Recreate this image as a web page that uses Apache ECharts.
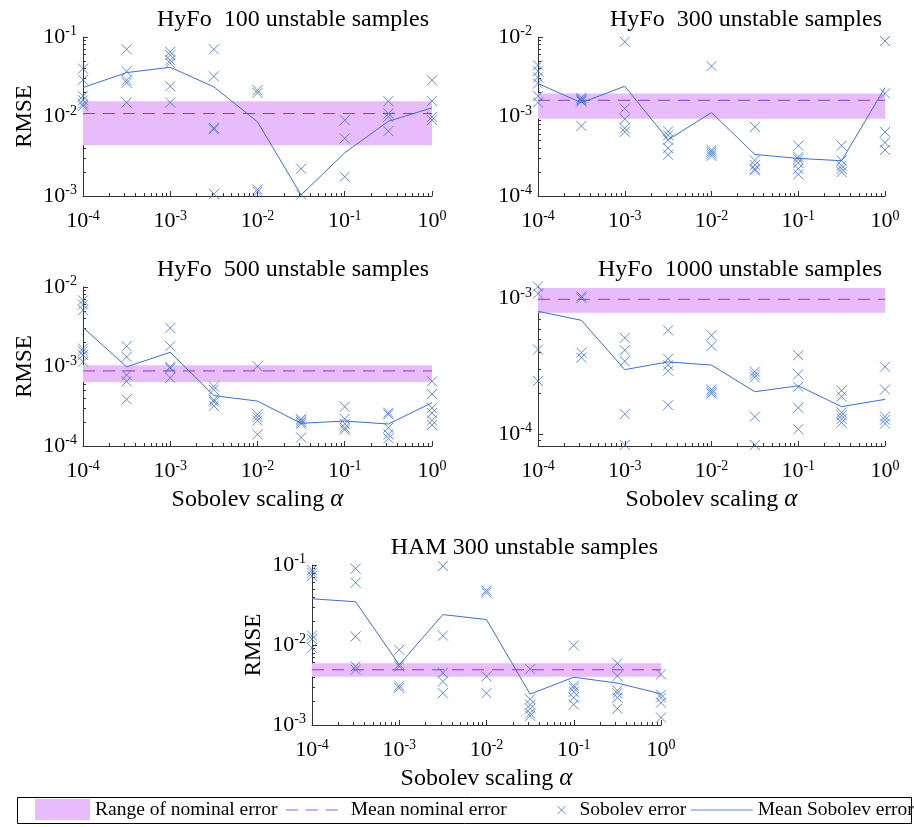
<!DOCTYPE html>
<html>
<head>
<meta charset="utf-8">
<script src="https://cdn.jsdelivr.net/npm/echarts@6/dist/echarts.min.js"></script>
<style>html,body{margin:0;padding:0;background:#fff}#c{width:914px;height:827px}</style>
</head>
<body>
<div id="c"></div>
<script>
// ---------- data ----------
const alphas = [1e-4, 3.162e-4, 1e-3, 3.162e-3, 1e-2, 3.162e-2, 1e-1, 3.162e-1, 1];

const hyfo100Sobolev = [
  [0.040, 0.029, 0.018, 0.016, 0.0145, 0.0135],
  [0.070, 0.037, 0.0286, 0.0265, 0.015],
  [0.065, 0.059, 0.051, 0.047, 0.024, 0.015],
  [0.070, 0.032, 0.0072, 0.0069, 0.00106],
  [0.0214, 0.0198, 0.00121, 0.00113],
  [0.0022, 0.00104],
  [0.009, 0.0053, 0.00175],
  [0.0156, 0.0109, 0.0099, 0.00655],
  [0.0286, 0.0157, 0.0099, 0.009]
];
const hyfo100Mean = [0.0231, 0.0357, 0.0416, 0.0236, 0.00857, 0.00103, 0.0035, 0.0087, 0.01285];
const hyfo100NomRange = [0.00436, 0.01556];
const hyfo100NomMean = 0.0109;

const hyfo300Sobolev = [
  [0.0044, 0.0037, 0.0031, 0.0026, 0.0018, 0.0015],
  [0.00172, 0.00165, 0.0016, 0.00155, 0.00076],
  [0.0087, 0.00126, 0.00093, 0.00071, 0.00064],
  [0.00065, 0.00058, 0.00051, 0.0004, 0.00033],
  [0.0043, 0.00038, 0.00036, 0.00034, 0.00032],
  [0.00074, 0.00028, 0.000245, 0.00022, 0.00021],
  [0.00043, 0.00031, 0.00029, 0.00026, 0.00022, 0.000187],
  [0.00043, 0.00028, 0.00024, 0.00022, 0.0002],
  [0.0089, 0.00195, 0.00064, 0.00047, 0.00038]
];
const hyfo300Mean = [0.0026, 0.00149, 0.0024, 0.00051, 0.00112, 0.000333, 0.000297, 0.000278, 0.00231];
const hyfo300NomRange = [0.00094, 0.00195];
const hyfo300NomMean = 0.0016;

const hyfo500Sobolev = [
  [0.0068, 0.006, 0.0051, 0.00168, 0.00155, 0.0014, 0.00115],
  [0.0018, 0.00132, 0.00078, 0.00065, 0.000386],
  [0.00305, 0.0018, 0.00099, 0.00095, 0.00072],
  [0.00056, 0.00051, 0.00038, 0.00036, 0.00032],
  [0.00101, 0.00025, 0.00023, 0.00021, 0.00014],
  [0.00022, 0.00021, 0.0002, 0.00019, 0.000128],
  [0.000312, 0.00022, 0.00019, 0.00017, 0.00016],
  [0.000262, 0.00025, 0.00017, 0.00014, 0.000125],
  [0.00065, 0.00045, 0.0003, 0.00026, 0.00021, 0.000184]
];
const hyfo500Mean = [0.0031, 0.00099, 0.00151, 0.00043, 0.000367, 0.000193, 0.000206, 0.000189, 0.00035];
const hyfo500NomRange = [0.00064, 0.00104];
const hyfo500NomMean = 0.00088;

const hyfo1000Sobolev = [
  [0.00123, 0.00109, 0.000422, 0.000247],
  [0.00104, 0.00101, 0.0004, 0.000368],
  [0.000514, 0.000417, 0.000346, 0.000141, 0.0000835],
  [0.000585, 0.00036, 0.000323, 0.000294, 0.000164],
  [0.000537, 0.000449, 0.000214, 0.000206, 0.0002],
  [0.00029, 0.000276, 0.000263, 0.000135, 0.0000835],
  [0.000383, 0.000277, 0.000224, 0.000157, 0.000109],
  [0.00021, 0.00019, 0.000145, 0.000138, 0.00013, 0.000122],
  [0.000315, 0.000214, 0.000135, 0.000128, 0.00012]
];
const hyfo1000Mean = [0.000807, 0.000693, 0.0003, 0.000342, 0.000324, 0.000206, 0.000228, 0.00016, 0.000181];
const hyfo1000NomRange = [0.000789, 0.0012];
const hyfo1000NomMean = 0.00099;

const ham300Sobolev = [
  [0.0865, 0.08, 0.073, 0.0131, 0.0119, 0.0092],
  [0.09, 0.06, 0.0128, 0.0054, 0.0049],
  [0.0087, 0.0057, 0.0054, 0.0031, 0.0029],
  [0.097, 0.0131, 0.0045, 0.0035, 0.0025],
  [0.048, 0.045, 0.00405, 0.0025],
  [0.005, 0.0021, 0.0018, 0.0016, 0.0014, 0.0013],
  [0.0099, 0.0031, 0.0029, 0.0026, 0.0022, 0.0018],
  [0.0059, 0.0041, 0.0027, 0.0025, 0.0022, 0.0016],
  [0.0043, 0.0024, 0.0022, 0.0019, 0.00124]
];
const ham300Mean = [0.0378, 0.0347, 0.00566, 0.024, 0.0208, 0.00243, 0.00396, 0.00334, 0.00245];
const ham300NomRange = [0.004, 0.0059];
const ham300NomMean = 0.0049;

const titles = ['HyFo  100 unstable samples', 'HyFo  300 unstable samples', 'HyFo  500 unstable samples', 'HyFo  1000 unstable samples', 'HAM 300 unstable samples'];
const xTicks = [1e-4, 1e-3, 1e-2, 1e-1, 1];
const yTicks = [
  [1e-3, 1e-2, 1e-1],
  [1e-4, 1e-3, 1e-2],
  [1e-4, 1e-3, 1e-2],
  [1e-4, 1e-3],
  [1e-3, 1e-2, 1e-1]
];
const yRanges = [[1e-3, 1e-1], [1e-4, 1e-2], [1e-4, 1e-2], [8.2e-5, 1.22e-3], [1e-3, 1e-1]];

const panelsData = [
  {sob: hyfo100Sobolev, mean: hyfo100Mean, range: hyfo100NomRange, nom: hyfo100NomMean},
  {sob: hyfo300Sobolev, mean: hyfo300Mean, range: hyfo300NomRange, nom: hyfo300NomMean},
  {sob: hyfo500Sobolev, mean: hyfo500Mean, range: hyfo500NomRange, nom: hyfo500NomMean},
  {sob: hyfo1000Sobolev, mean: hyfo1000Mean, range: hyfo1000NomRange, nom: hyfo1000NomMean},
  {sob: ham300Sobolev, mean: ham300Mean, range: ham300NomRange, nom: ham300NomMean}
];

// ---------- layout / style ----------
const layout = [
  {left: 83, top: 37, width: 349, height: 159, yName: true, xName: false, titleTop: 8},
  {left: 538, top: 37, width: 347, height: 159, yName: false, xName: false, titleTop: 8},
  {left: 83, top: 287, width: 349, height: 159, yName: true, xName: true, titleTop: 258},
  {left: 538, top: 287, width: 347, height: 159, yName: false, xName: true, titleTop: 258},
  {left: 312, top: 565, width: 349, height: 160, yName: true, xName: true, titleTop: 536}
];
const FONT = 'Liberation Serif';
const BLUE = '#3b6fd6';
const PINK = '#e8bcfa';
const PURPLE = '#9933cc';
const AXIS = '#333';
const XSYM = 'path://M0,0L10,10M10,0L0,10';

function minorTicks(lo, hi) {
  const out = [];
  for (let d = Math.floor(Math.log10(lo)) ; d <= Math.ceil(Math.log10(hi)); d++) {
    for (let k = 2; k <= 9; k++) {
      const v = k * Math.pow(10, d);
      if (v >= lo * 0.999 && v <= hi * 1.001) out.push(v);
    }
  }
  return out;
}
const rich = {
  b: {fontSize: 22, fontFamily: FONT, color: '#000'},
  s: {fontSize: 14, fontFamily: FONT, color: '#000', padding: [0, 0, 11, 0]}
};
function fmt(v) {
  const e = Math.round(Math.log10(v));
  return '{b|10}{s|' + e + '}';
}

const grid = [], xAxis = [], yAxis = [], series = [], title = [];
layout.forEach((L, i) => {
  grid.push({left: L.left, top: L.top, width: L.width, height: L.height, containLabel: false});
  title.push({
    text: titles[i], right: 914 - (L.left + L.width) + 3, top: L.titleTop, padding: 0,
    textStyle: {fontFamily: FONT, fontSize: 24, fontWeight: 'normal', color: '#000'}
  });
  const [ymin, ymax] = yRanges[i];
  xAxis.push({
    type: 'log', logBase: 10, gridIndex: i, min: 1e-4, max: 1, position: 'bottom',
    name: L.xName ? 'Sobolev scaling {i|α}' : '', nameLocation: 'middle', nameGap: 41,
    nameTextStyle: {fontFamily: FONT, fontSize: 24, color: '#000',
      rich: {i: {fontFamily: FONT, fontSize: 25, fontStyle: 'italic', color: '#000'}}},
    axisLine: {show: true, lineStyle: {color: AXIS, width: 1}},
    axisTick: {show: true, inside: true, length: 5, customValues: xTicks, lineStyle: {color: AXIS}},
    axisLabel: {show: true, customValues: xTicks, formatter: fmt, rich: rich, margin: 13},
    splitLine: {show: false}
  });
  yAxis.push({
    type: 'log', logBase: 10, gridIndex: i, min: ymin, max: ymax, position: 'left',
    name: L.yName ? 'RMSE' : '', nameLocation: 'middle', nameGap: 47, nameRotate: 90,
    nameTextStyle: {fontFamily: FONT, fontSize: 23, color: '#000'},
    axisLine: {show: true, lineStyle: {color: AXIS, width: 1}},
    axisTick: {show: true, inside: true, length: 5, customValues: yTicks[i], lineStyle: {color: AXIS}},
    axisLabel: {show: true, customValues: yTicks[i], formatter: fmt, rich: rich, margin: 6},
    splitLine: {show: false}
  });
});
// minor tick axes (same side as the main axes)
layout.forEach((L, i) => {
  const [ymin, ymax] = yRanges[i];
  xAxis.push({
    type: 'log', logBase: 10, gridIndex: i, min: 1e-4, max: 1, position: 'bottom', offset: 0,
    axisLine: {show: false}, axisLabel: {show: false}, splitLine: {show: false},
    axisTick: {show: true, inside: true, length: 3, customValues: minorTicks(1e-4, 1), lineStyle: {color: AXIS}}
  });
  yAxis.push({
    type: 'log', logBase: 10, gridIndex: i, min: ymin, max: ymax, position: 'left', offset: 0,
    axisLine: {show: false}, axisLabel: {show: false}, splitLine: {show: false},
    axisTick: {show: true, inside: true, length: 3, customValues: minorTicks(ymin, ymax), lineStyle: {color: AXIS}}
  });
});

panelsData.forEach((P, i) => {
  const pts = [];
  P.sob.forEach((arr, j) => arr.forEach(v => pts.push([alphas[j], v])));
  series.push({
    name: 'Range of nominal error', type: 'line', xAxisIndex: i, yAxisIndex: i, z: 1,
    data: [[alphas[0], P.range[0]], [alphas[alphas.length - 1], P.range[1]]],
    symbol: 'none', lineStyle: {opacity: 0, width: 0}, itemStyle: {color: PINK}, silent: true,
    markArea: {silent: true, itemStyle: {color: PINK, opacity: 1},
      data: [[{coord: [alphas[0], P.range[0]]}, {coord: [alphas[alphas.length - 1], P.range[1]]}]]}
  });
  series.push({
    name: 'Mean nominal error', type: 'line', xAxisIndex: i, yAxisIndex: i, z: 3,
    data: [[alphas[0], P.nom], [alphas[alphas.length - 1], P.nom]],
    symbol: 'none', lineStyle: {color: PURPLE, width: 1, type: [12, 8]}, itemStyle: {color: PURPLE}
  });
  series.push({
    name: 'Sobolev error', type: 'scatter', xAxisIndex: i, yAxisIndex: i, z: 4,
    data: pts, symbol: XSYM, symbolSize: 10, clip: false,
    itemStyle: {color: 'none', borderColor: BLUE, borderWidth: 1}
  });
  series.push({
    name: 'Mean Sobolev error', type: 'line', xAxisIndex: i, yAxisIndex: i, z: 5,
    data: alphas.map((a, j) => [a, P.mean[j]]),
    symbol: 'none', lineStyle: {color: BLUE, width: 1}, itemStyle: {color: BLUE}
  });
});

const legendText = {fontFamily: FONT, fontSize: 19.5, color: '#000'};
const legend = [
  {data: [{name: 'Range of nominal error', icon: 'rect', itemStyle: {color: PINK, borderWidth: 0}}],
   left: 35, top: 799, itemWidth: 55, itemHeight: 21, padding: 0, textStyle: legendText, selectedMode: false},
  {data: [{name: 'Mean nominal error', itemStyle: {opacity: 0}, lineStyle: {color: '#c88ae8', width: 1.5, type: [12, 8]}}],
   left: 285, top: 800, itemWidth: 60, itemHeight: 20, padding: 0, textStyle: legendText, selectedMode: false},
  {data: [{name: 'Sobolev error', icon: XSYM, itemStyle: {color: 'none', borderColor: BLUE, borderWidth: 1}}],
   left: 555, top: 800, itemWidth: 8, itemHeight: 20, padding: 0, textStyle: Object.assign({padding: [0, 0, 0, 9]}, legendText), selectedMode: false},
  {data: [{name: 'Mean Sobolev error', itemStyle: {opacity: 0}, lineStyle: {color: '#8fb0ea', width: 1.5}}],
   left: 690, top: 800, itemWidth: 62, itemHeight: 20, padding: 0, textStyle: legendText, selectedMode: false}
];

const chart = echarts.init(document.getElementById('c'), null, {renderer: 'canvas'});
chart.setOption({
  backgroundColor: '#fff',
  animation: false,
  title, grid, xAxis, yAxis, series, legend,
  graphic: [{type: 'rect', shape: {x: 17.5, y: 797.5, width: 894, height: 26},
    style: {fill: 'none', stroke: '#000', lineWidth: 1}, silent: true}]
});
</script>
</body>
</html>
